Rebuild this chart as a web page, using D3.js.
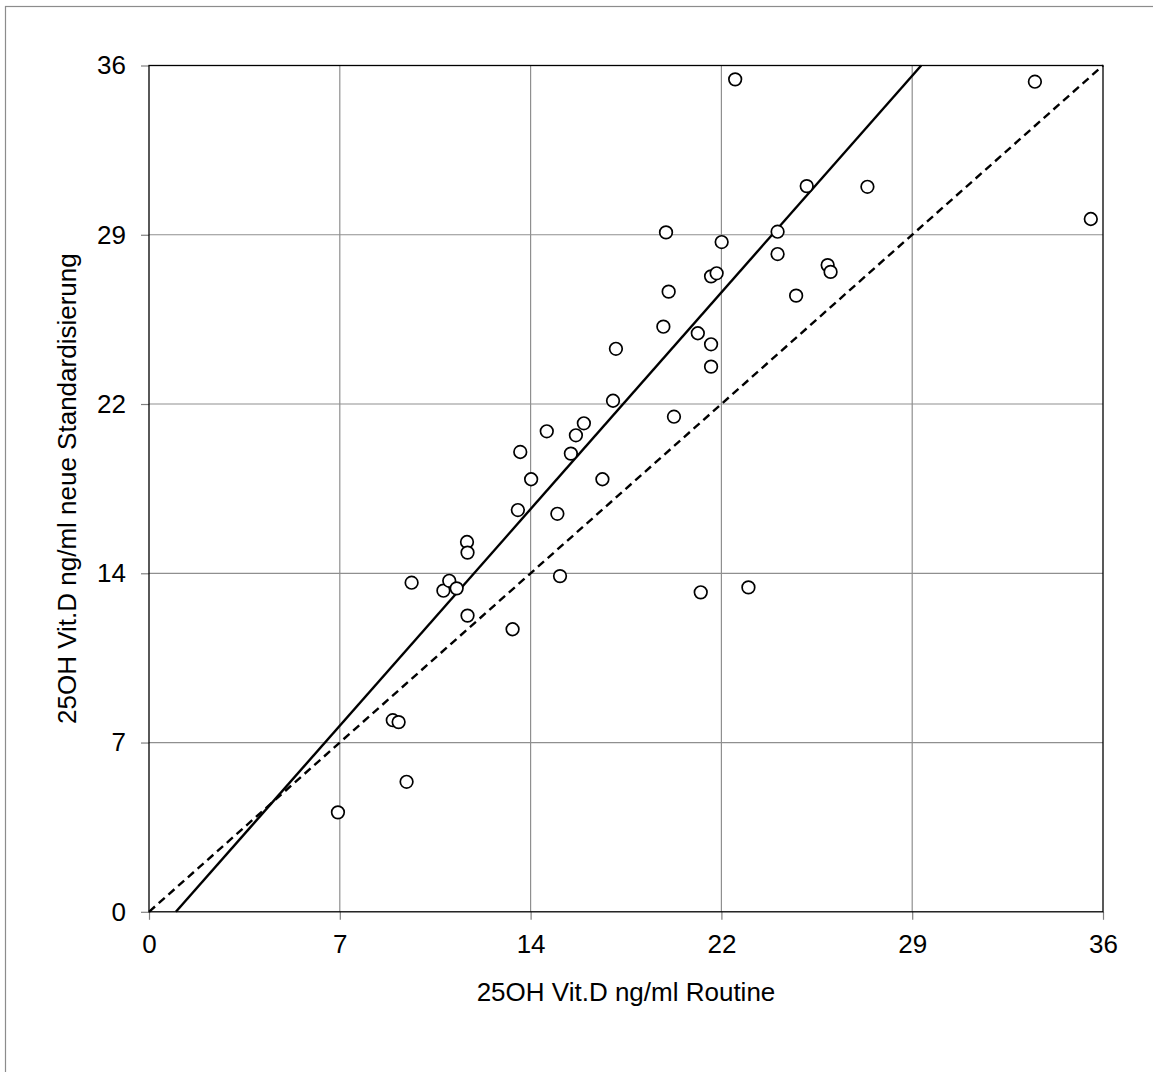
<!DOCTYPE html>
<html>
<head>
<meta charset="utf-8">
<script src="https://cdn.jsdelivr.net/npm/d3@7"></script>
<style>
  body { margin: 0; background: #fff; }
  svg { display: block; font-family: "Liberation Sans", Arial, sans-serif; }
</style>
</head>
<body>
<div id="chart"></div>
<script>
// values (ng/ml)
const routine = [7.13, 9.20, 9.42, 9.72, 9.91, 11.11, 11.33, 11.61, 12.00, 12.02,
  12.02, 13.72, 13.92, 14.01, 14.42, 15.01, 15.41, 15.51, 15.92, 16.11,
  16.41, 17.11, 17.51, 17.62, 19.41, 19.51, 19.61, 19.81, 20.71, 20.82,
  21.21, 21.42, 21.21, 21.21, 21.61, 22.12, 22.62, 23.72, 23.72, 24.42,
  24.82, 25.61, 25.72, 27.11, 33.43, 35.54];
const newStd = [4.23, 8.15, 8.07, 5.53, 14.00, 13.66, 14.08, 13.76, 15.73, 15.28,
  12.60, 12.02, 17.09, 19.56, 18.40, 20.44, 16.93, 14.28, 19.49, 20.27,
  20.78, 18.40, 21.74, 23.95, 24.89, 28.90, 26.38, 21.06, 24.61, 13.59,
  27.03, 27.16, 24.14, 23.19, 28.49, 35.41, 13.80, 28.93, 27.98, 26.21,
  30.87, 27.51, 27.22, 30.84, 35.31, 29.47];
const tickValues = [0, 7.2, 14.4, 21.6, 28.8, 36];
const tickLabels = ["0", "7", "14", "22", "29", "36"];
const fit = [-1.30, 1.28];   // intercept, slope of the solid line
const xTitle = "25OH Vit.D ng/ml Routine";
const yTitle = "25OH Vit.D ng/ml neue Standardisierung";

const W = 1153, H = 1072;
const m = { left: 149, right: 1103, top: 65.5, bottom: 911.8 };

const svg = d3.select("#chart").append("svg")
  .attr("width", W).attr("height", H);

// outer border (only left/top fall inside the picture)
svg.append("rect")
  .attr("x", 5.5).attr("y", 6.5)
  .attr("width", W + 20).attr("height", H + 20)
  .attr("fill", "none").attr("stroke", "#8c8c8c").attr("stroke-width", 1.2);

const x = d3.scaleLinear().domain([0, 36]).range([m.left, m.right]);
const y = d3.scaleLinear().domain([0, 36]).range([m.bottom, m.top]);
const fmt = v => tickLabels[tickValues.indexOf(v)];

// grid
const inner = tickValues.slice(1, -1);
svg.append("g").selectAll("line").data(inner).enter().append("line")
  .attr("x1", d => x(d)).attr("x2", d => x(d))
  .attr("y1", m.top).attr("y2", m.bottom)
  .attr("stroke", "#8f8f8f").attr("stroke-width", 1.2);
svg.append("g").selectAll("line").data(inner).enter().append("line")
  .attr("y1", d => y(d)).attr("y2", d => y(d))
  .attr("x1", m.left).attr("x2", m.right)
  .attr("stroke", "#8f8f8f").attr("stroke-width", 1.2);

// axes
const xAxis = svg.append("g")
  .attr("transform", "translate(0," + m.bottom + ")")
  .call(d3.axisBottom(x).tickValues(tickValues).tickFormat(fmt)
    .tickSize(8).tickPadding(15).tickSizeOuter(0));
const yAxis = svg.append("g")
  .attr("transform", "translate(" + m.left + ",0)")
  .call(d3.axisLeft(y).tickValues(tickValues).tickFormat(fmt)
    .tickSize(8).tickPadding(15).tickSizeOuter(0));
[xAxis, yAxis].forEach(a => {
  a.select(".domain").remove();
  a.selectAll(".tick line").attr("stroke", "#808080").attr("stroke-width", 1.2);
  a.selectAll(".tick text").attr("fill", "#000")
    .style("font-size", "26px").style("font-family", "'Liberation Sans', Arial, sans-serif");
});

// plot frame
svg.append("rect")
  .attr("x", m.left).attr("y", m.top)
  .attr("width", m.right - m.left).attr("height", m.bottom - m.top)
  .attr("fill", "none").attr("stroke", "#000").attr("stroke-width", 1.3);

// identity line (dashed)
svg.append("line")
  .attr("x1", x(0)).attr("y1", y(0)).attr("x2", x(36)).attr("y2", y(36))
  .attr("stroke", "#000").attr("stroke-width", 2.4)
  .attr("stroke-dasharray", "8,5");

// regression line (solid), from y=0 to y=36
const x0 = (0 - fit[0]) / fit[1], x1 = (36 - fit[0]) / fit[1];
svg.append("line")
  .attr("x1", x(x0)).attr("y1", y(0)).attr("x2", x(x1)).attr("y2", y(36))
  .attr("stroke", "#000").attr("stroke-width", 2.4);

// markers
svg.append("g").selectAll("circle")
  .data(routine.map((d, i) => [d, newStd[i]]))
  .enter().append("circle")
  .attr("cx", d => x(d[0])).attr("cy", d => y(d[1]))
  .attr("r", 6.3)
  .attr("fill", "#fff").attr("stroke", "#000").attr("stroke-width", 1.7);

// titles
svg.append("text")
  .attr("x", (m.left + m.right) / 2).attr("y", 1001)
  .attr("text-anchor", "middle").style("font-size", "26px")
  .text(xTitle);
svg.append("text")
  .attr("transform", "translate(76," + (m.top + m.bottom) / 2 + ") rotate(-90)")
  .attr("text-anchor", "middle").style("font-size", "26px")
  .text(yTitle);
</script>
</body>
</html>
